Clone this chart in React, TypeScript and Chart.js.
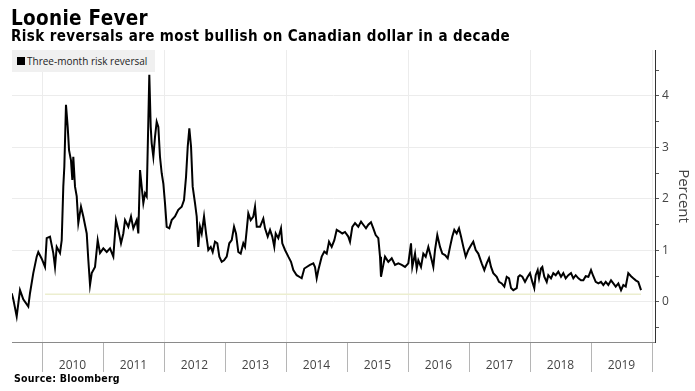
import React, { useEffect, useRef } from "react";
import { Chart, registerables } from "chart.js";

Chart.register(...registerables);

const title = "Loonie Fever";
const subtitle = "Risk reversals are most bullish on Canadian dollar in a decade";
const source = "Source: Bloomberg";
const seriesName = "Three-month risk reversal";
const yAxisTitle = "Percent";

// decimal years
const dates = [
  2009.503, 2009.53, 2009.585, 2009.639, 2009.693, 2009.775, 2009.803, 2009.857, 2009.913, 2009.939,
  2009.995, 2010.049, 2010.077, 2010.131, 2010.185, 2010.213, 2010.241, 2010.295, 2010.323, 2010.349,
  2010.366, 2010.393, 2010.421, 2010.443, 2010.475, 2010.497, 2010.513, 2010.541, 2010.569, 2010.595,
  2010.639, 2010.677, 2010.733, 2010.759, 2010.787, 2010.815, 2010.869, 2010.913, 2010.951, 2011.005,
  2011.061, 2011.115, 2011.169, 2011.213, 2011.251, 2011.295, 2011.333, 2011.361, 2011.415, 2011.459,
  2011.497, 2011.552, 2011.579, 2011.607, 2011.634, 2011.661, 2011.689, 2011.716, 2011.743, 2011.759,
  2011.782, 2011.798, 2011.825, 2011.852, 2011.88, 2011.907, 2011.934, 2011.962, 2011.989, 2012.016,
  2012.044, 2012.087, 2012.126, 2012.18, 2012.234, 2012.29, 2012.328, 2012.361, 2012.389, 2012.415,
  2012.443, 2012.47, 2012.508, 2012.536, 2012.562, 2012.59, 2012.618, 2012.656, 2012.689, 2012.726,
  2012.766, 2012.798, 2012.836, 2012.874, 2012.907, 2012.946, 2012.984, 2013.028, 2013.07, 2013.11,
  2013.148, 2013.18, 2013.218, 2013.257, 2013.3, 2013.328, 2013.356, 2013.382, 2013.421, 2013.464,
  2013.492, 2013.52, 2013.574, 2013.628, 2013.656, 2013.7, 2013.738, 2013.775, 2013.808, 2013.831,
  2013.874, 2013.918, 2013.939, 2013.984, 2014.038, 2014.082, 2014.12, 2014.175, 2014.23, 2014.257,
  2014.3, 2014.339, 2014.393, 2014.448, 2014.475, 2014.503, 2014.53, 2014.585, 2014.628, 2014.667,
  2014.705, 2014.749, 2014.792, 2014.831, 2014.885, 2014.923, 2014.967, 2015.021, 2015.049, 2015.087,
  2015.131, 2015.185, 2015.23, 2015.267, 2015.311, 2015.349, 2015.393, 2015.431, 2015.47, 2015.513,
  2015.541, 2015.557, 2015.595, 2015.623, 2015.677, 2015.733, 2015.787, 2015.841, 2015.897, 2015.951,
  2016.005, 2016.049, 2016.07, 2016.115, 2016.143, 2016.169, 2016.213, 2016.251, 2016.29, 2016.333,
  2016.361, 2016.389, 2016.415, 2016.443, 2016.48, 2016.525, 2016.562, 2016.607, 2016.651, 2016.689,
  2016.726, 2016.759, 2016.798, 2016.836, 2016.869, 2016.907, 2016.946, 2016.989, 2017.033, 2017.07,
  2017.11, 2017.152, 2017.208, 2017.251, 2017.29, 2017.328, 2017.361, 2017.398, 2017.454, 2017.492,
  2017.536, 2017.579, 2017.618, 2017.656, 2017.689, 2017.726, 2017.782, 2017.808, 2017.836, 2017.874,
  2017.918, 2017.962, 2018.0, 2018.038, 2018.07, 2018.093, 2018.126, 2018.148, 2018.18, 2018.202,
  2018.234, 2018.274, 2018.3, 2018.344, 2018.382, 2018.421, 2018.464, 2018.508, 2018.546, 2018.585,
  2018.628, 2018.672, 2018.71, 2018.749, 2018.793, 2018.836, 2018.874, 2018.913, 2018.957, 2019.0,
  2019.038, 2019.077, 2019.121, 2019.164, 2019.202, 2019.241, 2019.284, 2019.328, 2019.366, 2019.405,
  2019.448, 2019.492, 2019.53, 2019.569, 2019.611, 2019.656, 2019.693, 2019.733, 2019.775, 2019.82,
];

// percent
const riskReversal = [
  0.17, 0.05, -0.28, 0.23, 0.05, -0.09, 0.17, 0.56, 0.88, 0.97,
  0.84, 0.68, 1.24, 1.27, 0.95, 0.68, 1.07, 0.95, 1.2, 2.24,
  2.63, 3.83, 3.4, 2.95, 2.75, 2.37, 2.82, 2.24, 2.05, 1.53,
  1.85, 1.66, 1.33, 0.82, 0.33, 0.56, 0.68, 1.2, 0.95, 1.04,
  0.97, 1.04, 0.88, 1.59, 1.4, 1.14, 1.33, 1.59, 1.46, 1.66,
  1.43, 1.59, 1.33, 2.56, 2.24, 1.92, 2.11, 2.05, 3.53, 4.41,
  3.4, 3.08, 2.82, 3.2, 3.5, 3.4, 2.82, 2.5, 2.3, 1.92,
  1.46, 1.43, 1.59, 1.66, 1.79, 1.85, 1.98, 2.43, 3.02, 3.37,
  3.02, 2.24, 1.92, 1.66, 1.07, 1.46, 1.33, 1.66, 1.33, 1.01,
  1.07, 0.97, 1.17, 1.14, 0.88, 0.78, 0.81, 0.88, 1.14, 1.2,
  1.46, 1.33, 0.97, 0.94, 1.14, 1.07, 1.4, 1.72, 1.59, 1.66,
  1.85, 1.46, 1.46, 1.62, 1.43, 1.27, 1.4, 1.27, 1.07, 1.33,
  1.24, 1.43, 1.14, 1.01, 0.88, 0.78, 0.62, 0.52, 0.48, 0.46,
  0.65, 0.68, 0.72, 0.75, 0.68, 0.46, 0.62, 0.88, 0.98, 0.94,
  1.17, 1.07, 1.2, 1.4, 1.36, 1.33, 1.36, 1.27, 1.17, 1.46,
  1.53, 1.46, 1.56, 1.5, 1.43, 1.5, 1.55, 1.43, 1.3, 1.24,
  0.88, 0.49, 0.72, 0.88, 0.78, 0.85, 0.72, 0.75, 0.72, 0.68,
  0.75, 1.14, 0.68, 0.94, 0.65, 0.81, 0.68, 0.94, 0.88, 1.07,
  0.94, 0.81, 0.68, 1.01, 1.3, 1.07, 0.94, 0.91, 0.85, 1.07,
  1.27, 1.4, 1.33, 1.43, 1.27, 1.07, 0.88, 1.01, 1.1, 1.17,
  1.01, 0.94, 0.75, 0.62, 0.75, 0.85, 0.68, 0.56, 0.49, 0.39,
  0.36, 0.3, 0.49, 0.46, 0.27, 0.23, 0.27, 0.49, 0.52, 0.49,
  0.39, 0.49, 0.56, 0.39, 0.27, 0.52, 0.62, 0.46, 0.65, 0.68,
  0.49, 0.39, 0.52, 0.46, 0.56, 0.52, 0.59, 0.49, 0.56, 0.46,
  0.52, 0.56, 0.46, 0.52, 0.46, 0.42, 0.42, 0.5, 0.49, 0.62,
  0.5, 0.39, 0.36, 0.39, 0.33, 0.39, 0.33, 0.42, 0.36, 0.3,
  0.36, 0.23, 0.33, 0.3, 0.56, 0.5, 0.46, 0.42, 0.39, 0.23,
];

// faint reference line
const refLineDates = [2010.05, 2019.82];
const refLineValues = [0.15, 0.15];

const yearTicks = [2010, 2011, 2012, 2013, 2014, 2015, 2016, 2017, 2018, 2019, 2020];
const yTicks = [-0.5, 0, 0.5, 1, 1.5, 2, 2.5, 3, 3.5, 4, 4.5];

const xMin = 2009.508;
const xMax = 2020.049;
const yMin = -0.777;
const yMax = 4.893;

const condensedBold = "'DejaVu Sans Condensed', 'DejaVu Sans', sans-serif";

export default function App() {
  const canvasRef = useRef<HTMLCanvasElement | null>(null);

  useEffect(() => {
    const canvas = canvasRef.current;
    if (!canvas) return;
    const xTickValues: number[] = [];
    yearTicks.forEach((y, i) => {
      xTickValues.push(y);
      if (i < yearTicks.length - 1) xTickValues.push(y + 0.5);
    });

    const chart = new Chart(canvas, {
      type: "line",
      data: {
        datasets: [
          {
            label: "ref",
            data: refLineDates.map((d, i) => ({ x: d, y: refLineValues[i] })),
            borderColor: "#eceecf",
            borderWidth: 1.5,
            pointRadius: 0,
          },
          {
            label: seriesName,
            data: dates.map((d, i) => ({ x: d, y: riskReversal[i] })),
            borderColor: "#000000",
            backgroundColor: "#000000",
            borderWidth: 2,
            pointRadius: 0,
            tension: 0,
          },
        ],
      },
      options: {
        responsive: false,
        animation: false,
        devicePixelRatio: 1,
        layout: { padding: { left: 12, top: 50, right: 0, bottom: 19 } },
        plugins: {
          legend: { display: false },
          tooltip: { enabled: false },
        },
        scales: {
          x: {
            type: "linear",
            position: "bottom",
            min: xMin,
            max: xMax,
            afterBuildTicks: (scale: any) => {
              scale.ticks = xTickValues.map((v) => ({ value: v }));
            },
            afterFit: (scale: any) => {
              scale.height = 30;
            },
            grid: {
              color: (ctx: any) => {
                const v = ctx.tick ? ctx.tick.value : 0;
                return Number.isInteger(v) && v % 2 === 0 ? "#ececec" : "rgba(0,0,0,0)";
              },
              tickColor: (ctx: any) => {
                const v = ctx.tick ? ctx.tick.value : 0;
                return Number.isInteger(v) ? "#b5b5b5" : "rgba(0,0,0,0)";
              },
              tickLength: 30,
              lineWidth: 1,
            },
            border: { display: true, color: "#8a8a8a", width: 1 },
            ticks: {
              autoSkip: false,
              maxRotation: 0,
              padding: -14,
              color: "#444444",
              font: { family: "'Open Sans', sans-serif", size: 12 },
              callback: (v: any) => (Number.isInteger(v) ? "" : String(Math.floor(v))),
            },
          },
          y: {
            type: "linear",
            position: "right",
            min: yMin,
            max: yMax,
            afterBuildTicks: (scale: any) => {
              scale.ticks = yTicks.map((v) => ({ value: v }));
            },
            afterFit: (scale: any) => {
              scale.width = 40;
            },
            grid: {
              color: (ctx: any) => {
                const v = ctx.tick ? ctx.tick.value : 0;
                return Number.isInteger(v) ? "#ececec" : "rgba(0,0,0,0)";
              },
              tickColor: "#555555",
              tickLength: 4,
            },
            border: { display: true, color: "#333333", width: 1 },
            ticks: {
              padding: 3,
              color: "#444444",
              font: { family: "'Open Sans', sans-serif", size: 12 },
              callback: (v: any) => (Number.isInteger(v) ? String(v) : ""),
            },
            title: {
              display: true,
              text: yAxisTitle,
              color: "#444444",
              font: { family: "'Open Sans', sans-serif", size: 15 },
              padding: { top: 3, bottom: 0 },
            },
          },
        },
      },
    } as any);
    return () => chart.destroy();
  }, []);

  return (
    <div style={{ position: "absolute", left: 0, top: 0, width: 695, height: 391, background: "#ffffff", overflow: "hidden" }}>
      <canvas ref={canvasRef} width={695} height={391} style={{ position: "absolute", left: 0, top: 0, width: 695, height: 391 }} />
      <div style={{ position: "absolute", left: 11, top: 8, fontFamily: condensedBold, fontWeight: "bold", fontSize: 20.5, lineHeight: "20.5px", letterSpacing: "0.3px", color: "#000", whiteSpace: "nowrap" }}>
        {title}
      </div>
      <div style={{ position: "absolute", left: 11, top: 28.5, fontFamily: condensedBold, fontWeight: "bold", fontSize: 15, lineHeight: "15px", letterSpacing: "0.4px", color: "#000", whiteSpace: "nowrap" }}>
        {subtitle}
      </div>
      <div style={{ position: "absolute", left: 12, top: 50, width: 143, height: 22, background: "#f0f0f0", display: "flex", alignItems: "center", fontFamily: "'Open Sans', sans-serif", fontSize: 10, color: "#222", whiteSpace: "nowrap" }}>
        <span style={{ display: "inline-block", width: 8, height: 8, background: "#000", marginLeft: 5, marginRight: 2 }} />
        <span>{seriesName}</span>
      </div>
      <div style={{ position: "absolute", left: 14, top: 373, fontFamily: condensedBold, fontWeight: "bold", fontSize: 10.5, lineHeight: "10.5px", letterSpacing: "0.25px", color: "#000", whiteSpace: "nowrap" }}>
        {source}
      </div>
    </div>
  );
}
